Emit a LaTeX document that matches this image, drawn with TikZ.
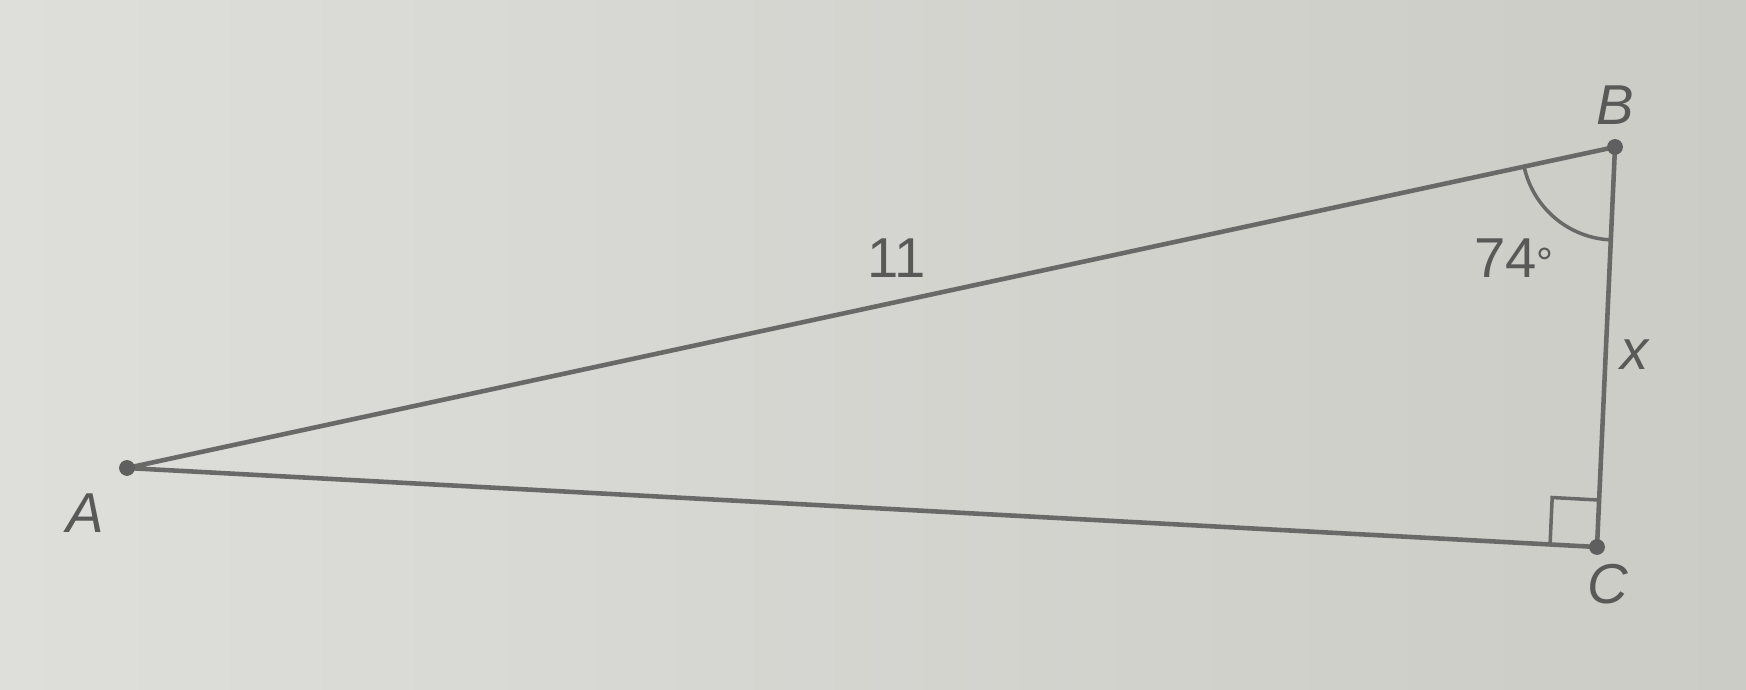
\documentclass[tikz,border=0pt]{standalone}
\usepackage{fontspec}
\setmainfont{Liberation Sans}
\usepackage{tikz}
\usetikzlibrary{positioning,calc,angles,quotes}
\definecolor{edgegray}{RGB}{105,106,104}
\definecolor{paperL}{RGB}{222,222,219}
\definecolor{paperR}{RGB}{203,204,197}

\begin{document}
\begin{tikzpicture}[
    side/.style={draw=edgegray, line width=1.3pt, line join=round},
    vdot/.style={circle, fill=edgegray!90!black, inner sep=0pt, minimum size=4.5pt},
    lbl/.style={text=edgegray!85!black, font=\fontsize{16}{19}\selectfont}
]
% background paper
\shade[left color=paperL, right color=paperR] (0,0) rectangle (17.46,6.90);
\useasboundingbox (0,0) rectangle (17.46,6.90);

\coordinate (A) at (1.27,2.22);
\coordinate (B) at (16.15,5.43);
\coordinate (C) at (15.97,1.43);

\draw[side] (A) -- (B) -- (C) -- cycle;

% angle marks
\pic[draw=edgegray, line width=1pt, angle radius=0.93cm] {angle = A--B--C};
\pic[draw=edgegray, line width=1pt, angle radius=0.47cm] {right angle = A--C--B};

\node[vdot] (dA) at (A) {};
\node[vdot] (dB) at (B) {};
\node[vdot] (dC) at (C) {};

\node[lbl] (lA) at (0.85,1.77) {\textit{A}};
\node[lbl] (lB) at (16.15,5.85) {\textit{B}};
\node[lbl] (lC) at (16.08,1.06) {\textit{C}};
\node[lbl] (len) at (8.97,4.32) {11};
\node[lbl] (ang) at (15.14,4.32) {74{\fontsize{12}{12}\selectfont °}};
\node[lbl] (lx) at (16.35,3.35) {\textit{x}};
\end{tikzpicture}
\end{document}
